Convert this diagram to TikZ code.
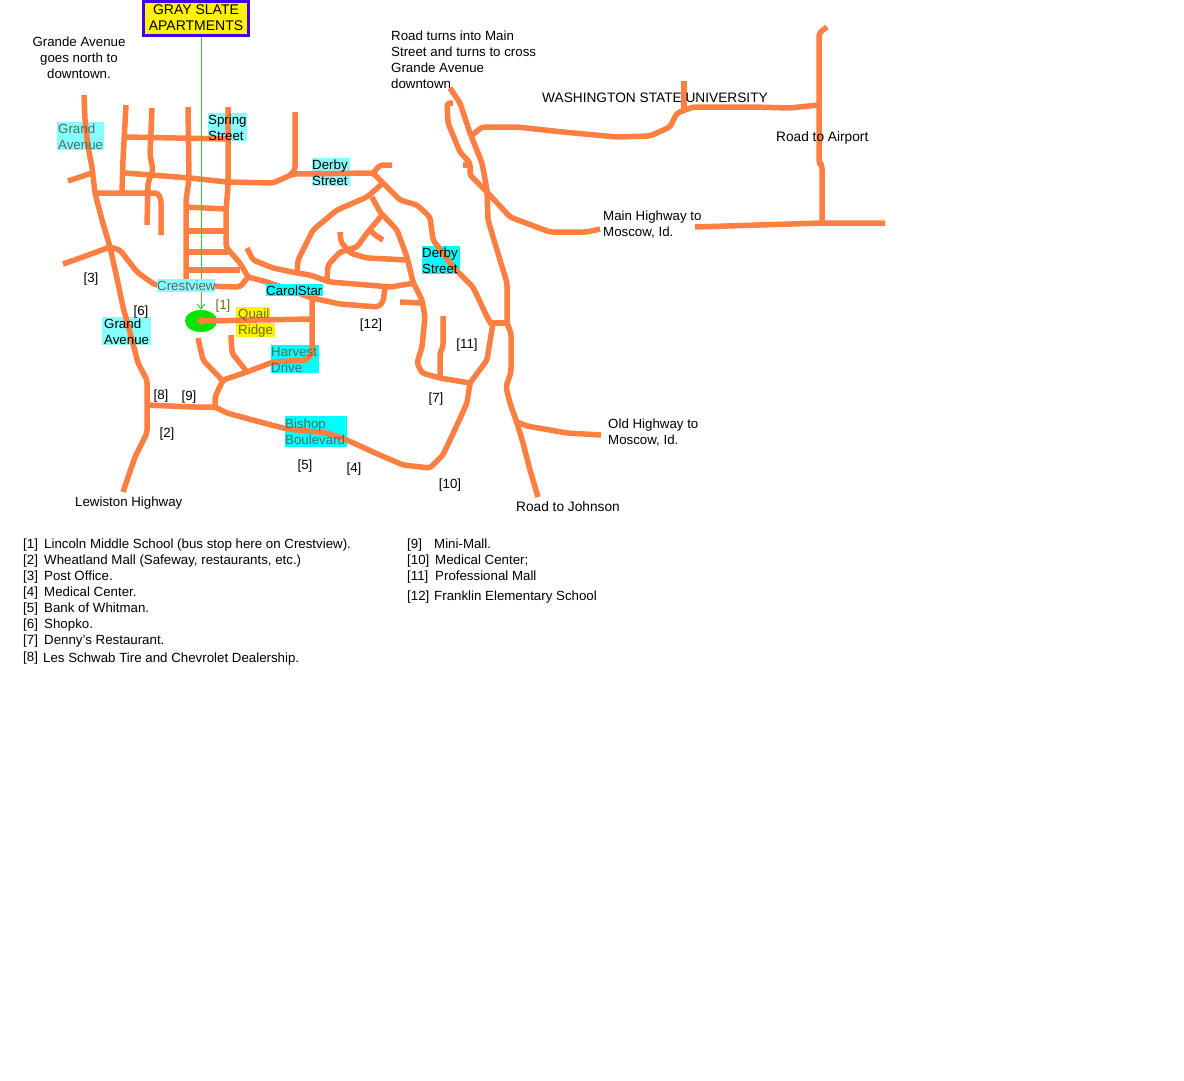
\documentclass[tikz,border=0pt]{standalone}
\usepackage{fontspec}
\setmainfont{Liberation Sans}
\usetikzlibrary{shapes.geometric,arrows.meta}
\definecolor{roadc}{HTML}{FF7F42}
\definecolor{cyanb}{HTML}{00FFFF}
\definecolor{paleb}{HTML}{88FFFF}
\definecolor{linkg}{HTML}{33CC33}
\definecolor{dimt}{HTML}{56695F}
\definecolor{olivt}{HTML}{6B6B10}
\tikzset{
  x=1pt,y=-1pt,
  road/.style={draw=roadc,line width=5.5pt,line join=round,rounded corners=3pt},
  lbl/.style={inner sep=0pt,anchor=north west,align=left,yshift=-0.8pt,font=\fontsize{13.3}{16}\selectfont,execute at begin node=\strut},
  lblc/.style={lbl,anchor=north,align=center},
  wide/.style={font=\fontsize{13.7}{16}\selectfont},
  tag/.style={inner sep=0pt,yshift=-0.8pt,font=\fontsize{13.3}{16}\selectfont},
}
\begin{document}
\begin{tikzpicture}
\useasboundingbox (0,0) rectangle (1184,1080);
\fill[white] (0,0) rectangle (1184,1080);
% label backgrounds beneath the roads
\fill[paleb] (57,122) rectangle (104,150);
\fill[paleb] (208,113) rectangle (247,141);
\fill[paleb] (312,158) rectangle (350,186);
\fill[cyanb] (422,246) rectangle (460,274);
\fill[paleb] (102,317) rectangle (151,345);
\fill[yellow] (236,307) rectangle (270,319);
\fill[yellow] (236,323) rectangle (275,337);
\fill[cyanb] (271,345) rectangle (319,373);
\fill[cyanb] (285,416) rectangle (347,447);
% bus-stop spot
\node[ellipse,fill=green!90!black,draw=none,minimum width=32pt,minimum height=22pt,inner sep=0pt] (stop) at (201,321) {};
% roads
\draw[road] (84,95) -- (85,120) -- (88,147) -- (92,167) -- (95,193) -- (102,220) -- (110,247) -- (118,283) -- (123,307) -- (132,340) -- (138,363) -- (147,380) -- (147,433) -- (135,457) -- (123,492);
\draw[road] (110,247) -- (120,250) -- (137,272) -- (155,285) -- (240,287) -- (248,277);
\draw[road] (63,264) -- (83,257) -- (110,247);
\draw[road] (126,105) -- (123,160) -- (122,192);
\draw[road] (152,108) -- (150,155) -- (153,170) -- (148,183) -- (147,225);
\draw[road] (188,107) -- (189,180) -- (186,200) -- (186,283);
\draw[road] (228,107) -- (228,187) -- (226,210) -- (226,247) -- (240,263) -- (248,277) -- (267,282) -- (312,298) -- (340,304) -- (378,307) -- (383,302) -- (385,288);
\draw[road] (295,112) -- (295,170) -- (290,175);
\draw[road] (126,137) -- (228,139);
\draw[road] (95,193) -- (158,193) -- (161,200) -- (161,235);
\draw[road] (68,181) -- (92,173);
\draw[road] (186,207) -- (226,209);
\draw[road] (186,231) -- (225,231);
\draw[road] (186,252) -- (228,252);
\draw[road] (186,270) -- (240,270);
\draw[road] (125,173) -- (190,178) -- (227,182) -- (273,183) -- (293,174) -- (373,173) -- (383,183) -- (400,200) -- (417,205) -- (430,217) -- (433,240) -- (453,267) -- (473,287) -- (490,323) -- (493,323) -- (487,360) -- (470,383) -- (467,403) -- (457,425) -- (443,455) -- (430,468) -- (403,465) -- (373,452) -- (347,440) -- (327,433) -- (287,429) -- (260,422) -- (227,413) -- (215,407) -- (193,407) -- (147,405);
\draw[road] (373,173) -- (380,165) -- (392,165);
\draw[road] (383,183) -- (367,197) -- (337,210) -- (313,230) -- (298,260) -- (297,273);
\draw[road] (247,248) -- (253,260) -- (273,268) -- (297,273) -- (310,275) -- (330,282) -- (367,285) -- (390,287) -- (415,283);
\draw[road] (372,197) -- (380,212) -- (397,230) -- (407,257) -- (413,282) -- (422,300) -- (425,317) -- (422,347) -- (417,363) -- (422,373) -- (440,378) -- (470,383);
\draw[road] (382,215) -- (367,233) -- (357,247) -- (340,252) -- (328,265) -- (327,280);
\draw[road] (340,232) -- (341,242) -- (350,253) -- (367,258) -- (407,260);
\draw[road] (368,228) -- (375,235) -- (383,240);
\draw[road] (400,302) -- (420,303);
\draw[road] (443,316) -- (443,347) -- (440,353) -- (440,378);
\draw[road] (312,298) -- (312,353) -- (307,360) -- (273,362) -- (247,372) -- (223,380) -- (215,397) -- (215,407);
\draw[road] (198,338) -- (203,360) -- (222,380);
\draw[road] (231,335) -- (232,353) -- (247,372);
\draw[road] (stop.center) -- (312,319);
\fill[roadc] (stop.center) circle (4);
% main road and north-east
\draw[road] (450,88) -- (460,103) -- (470,133) -- (482,163) -- (487,190) -- (488,220) -- (497,250) -- (507,283) -- (507,323) -- (511,333) -- (511,372) -- (506,387) -- (510,403) -- (517,423) -- (523,443) -- (530,470) -- (538,497);
\draw[road] (493,323) -- (507,323);
\draw[road] (453,103) -- (447,103) -- (448,123) -- (460,152) -- (470,163) -- (470,175) -- (487,192) -- (510,217) -- (523,222) -- (550,232) -- (587,232) -- (600,229);
\draw[road] (463,165) -- (471,165);
\draw[road] (470,137) -- (482,127) -- (517,127) -- (563,132) -- (617,137) -- (650,136) -- (670,127) -- (677,113) -- (693,107) -- (753,107) -- (790,108) -- (818,105);
\draw[road] (684,81) -- (684,110);
\draw[road] (827,27) -- (819,33) -- (819,163) -- (822,165) -- (822,223);
\draw[road] (695,227) -- (822,223) -- (885,223);
\draw[road] (517,422) -- (527,426) -- (567,433) -- (601,435);
% title box and pointer
\node[draw={rgb,255:red,64;green,0;blue,224},line width=3pt,fill=yellow,minimum width=105pt,minimum height=34pt,inner sep=0pt,align=center,font=\fontsize{14}{16}\selectfont] (gray) at (196,18.5) {\raisebox{0.8pt}{GRAY SLATE}\\\raisebox{0.8pt}{APARTMENTS}};
\draw[linkg,line width=0.9pt,-{Straight Barb[length=5pt,width=7pt]}] (gray.south -| stop.north) -- (stop.north);
% boxes that sit over roads
\fill[paleb] (157,279) rectangle (215,292);
\fill[cyanb] (266,284) rectangle (323,296);
% street names
\node[lbl,text=dimt] (n1) at (58,123) {Grand\\Avenue};
\node[lbl] (n2) at (208,114) {Spring\\Street};
\node[lbl] (n3) at (312,159) {Derby\\Street};
\node[lbl] (n4) at (422,247) {Derby\\Street};
\node[lbl] (n5) at (104,318) {Grand\\Avenue};
\node[lbl,text=dimt] (n6) at (157,278) {Crestview};
\node[lbl] (n7) at (266,283) {CarolStar};
\node[lbl,text=olivt] (n8) at (238,308) {Quail\\Ridge};
\node[lbl,text=dimt] (n9) at (271,346) {Harvest\\Drive};
\node[lbl,text=dimt] (n10) at (285,418) {Bishop\\Boulevard};
% notes
\node[lblc] (t1) at (79,36) {Grande Avenue\\goes north to\\downtown.};
\node[lbl] (t2) at (391,30) {Road turns into Main\\Street and turns to cross\\Grande Avenue\\downtown};
\node[lbl,wide] (t3) at (542,90) {WASHINGTON STATE UNIVERSITY};
\node[lbl,wide] (t4) at (776,129) {Road to Airport};
\node[lbl] (t5) at (603,210) {Main Highway to\\Moscow, Id.};
\node[lbl] (t6) at (608,418) {Old Highway to\\Moscow, Id.};
\node[lbl,wide] (t7) at (516,499) {Road to Johnson};
\node[lbl] (t8) at (75,494) {Lewiston Highway};
% map keys
\node[tag] (k3) at (91,278) {[3]};
\node[tag] (k6) at (141,311) {[6]};
\node[tag,text=olivt] (k1) at (223,305) {[1]};
\node[tag] (k12) at (371,324) {[12]};
\node[tag] (k11) at (467,344) {[11]};
\node[tag] (k7) at (436,398) {[7]};
\node[tag] (k8) at (161,395) {[8]};
\node[tag] (k9) at (189,396) {[9]};
\node[tag] (k2) at (167,433) {[2]};
\node[tag] (k5) at (305,465) {[5]};
\node[tag] (k4) at (354,468) {[4]};
\node[tag] (k10) at (450,484) {[10]};
% legend
\node[lbl] (a1) at (23,536) {[1]}; \node[lbl] (b1) at (44,536) {Lincoln Middle School (bus stop here on Crestview).};
\node[lbl] (a2) at (23,552) {[2]}; \node[lbl] (b2) at (44,552) {Wheatland Mall (Safeway, restaurants, etc.)};
\node[lbl] (a3) at (23,568) {[3]}; \node[lbl] (b3) at (44,568) {Post Office.};
\node[lbl] (a4) at (23,584) {[4]}; \node[lbl] (b4) at (44,584) {Medical Center.};
\node[lbl] (a5) at (23,600) {[5]}; \node[lbl] (b5) at (44,600) {Bank of Whitman.};
\node[lbl] (a6) at (23,616) {[6]}; \node[lbl] (b6) at (44,616) {Shopko.};
\node[lbl] (a7) at (23,632) {[7]}; \node[lbl] (b7) at (44,632) {Denny\symbol{39}s Restaurant.};
\node[lbl] (a8) at (23,649) {[8]}; \node[lbl] (b8) at (43,650) {Les Schwab Tire and Chevrolet Dealership.};
\node[lbl] (a9) at (407,536) {[9]}; \node[lbl] (b9) at (434,536) {Mini-Mall.};
\node[lbl] (a10) at (407,552) {[10]}; \node[lbl] (b10) at (435,552) {Medical Center;};
\node[lbl] (a11) at (407,568) {[11]}; \node[lbl] (b11) at (435,568) {Professional Mall};
\node[lbl] (a12) at (407,588) {[12]}; \node[lbl] (b12) at (434,588) {Franklin Elementary School};
\end{tikzpicture}
\end{document}
